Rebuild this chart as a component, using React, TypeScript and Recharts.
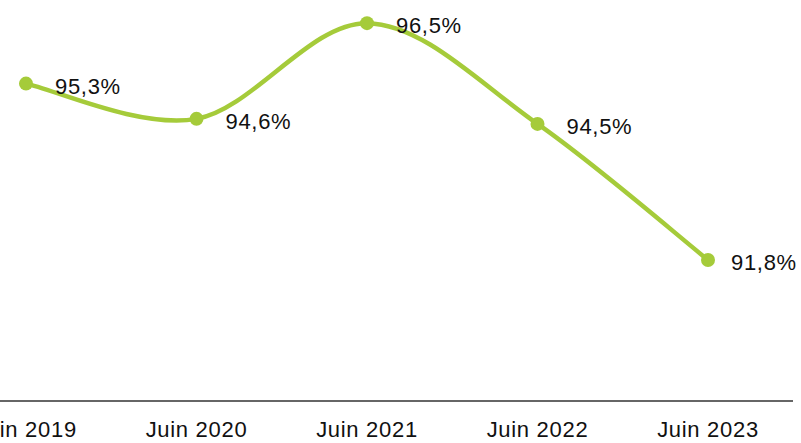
import { LineChart, Line, XAxis, YAxis, LabelList } from "recharts";

const periods = ["Juin 2019", "Juin 2020", "Juin 2021", "Juin 2022", "Juin 2023"];
const rates = [95.3, 94.6, 96.5, 94.5, 91.8];

const data = periods.map((p, i) => ({ period: p, rate: rates[i] }));

const GREEN = "#a5cb3a";
const FONT = "'Liberation Sans', Arial, sans-serif";

// catmull-rom style smoothing, like the office "smoothed line"
const smoothCurve = (ctx: any) => {
    let pts: number[][] = [];
    return {
        areaStart() {},
        areaEnd() {},
        lineStart() { pts = []; },
        point(x: number, y: number) { pts.push([+x, +y]); },
        lineEnd() {
            if (!pts.length) return;
            ctx.moveTo(pts[0][0], pts[0][1]);
            for (let i = 0; i < pts.length - 1; i++) {
                const p0 = pts[i - 1] || pts[i];
                const p1 = pts[i];
                const p2 = pts[i + 1];
                const p3 = pts[i + 2] || p2;
                ctx.bezierCurveTo(
                    p1[0] + (p2[0] - p0[0]) / 6, p1[1] + (p2[1] - p0[1]) / 6,
                    p2[0] - (p3[0] - p1[0]) / 6, p2[1] - (p3[1] - p1[1]) / 6,
                    p2[0], p2[1]
                );
            }
        },
    };
};

const fmt = (v: number) => v.toFixed(1).replace(".", ",") + "%";

const ValueLabel = (props: any) => {
    const { x, y, value, index } = props;
    // last label sits a bit closer to its dot so it stays inside the frame
    const dx = index === rates.length - 1 ? 23 : 29;
    return (
        <text x={x + dx} y={y + 10} fontSize={22} letterSpacing={0.7} fill="#111" fontFamily={FONT}>
            {fmt(value)}
        </text>
    );
};

export default function App() {
    return (
        <div style={{ position: "absolute", left: 0, top: 0, background: "#fff" }}>
            <LineChart width={801} height={443} data={data} margin={{ top: 3, right: 8, left: 0, bottom: 12 }}>
                <XAxis
                    dataKey="period"
                    padding={{ left: 26, right: 85 }}
                    axisLine={{ stroke: "#333", strokeWidth: 1.5 }}
                    tickLine={false}
                    tickMargin={14}
                    interval={0}
                    height={30}
                    tick={{ fill: "#111", fontSize: 22, fontFamily: FONT, letterSpacing: 0.7 }}
                />
                <YAxis hide domain={[89, 96.9]} />
                <Line
                    dataKey="rate"
                    type={smoothCurve as any}
                    stroke={GREEN}
                    strokeWidth={4.5}
                    dot={{ r: 7, fill: GREEN, stroke: "none" }}
                    activeDot={false}
                    isAnimationActive={false}
                >
                    <LabelList dataKey="rate" content={ValueLabel} />
                </Line>
            </LineChart>
        </div>
    );
}
